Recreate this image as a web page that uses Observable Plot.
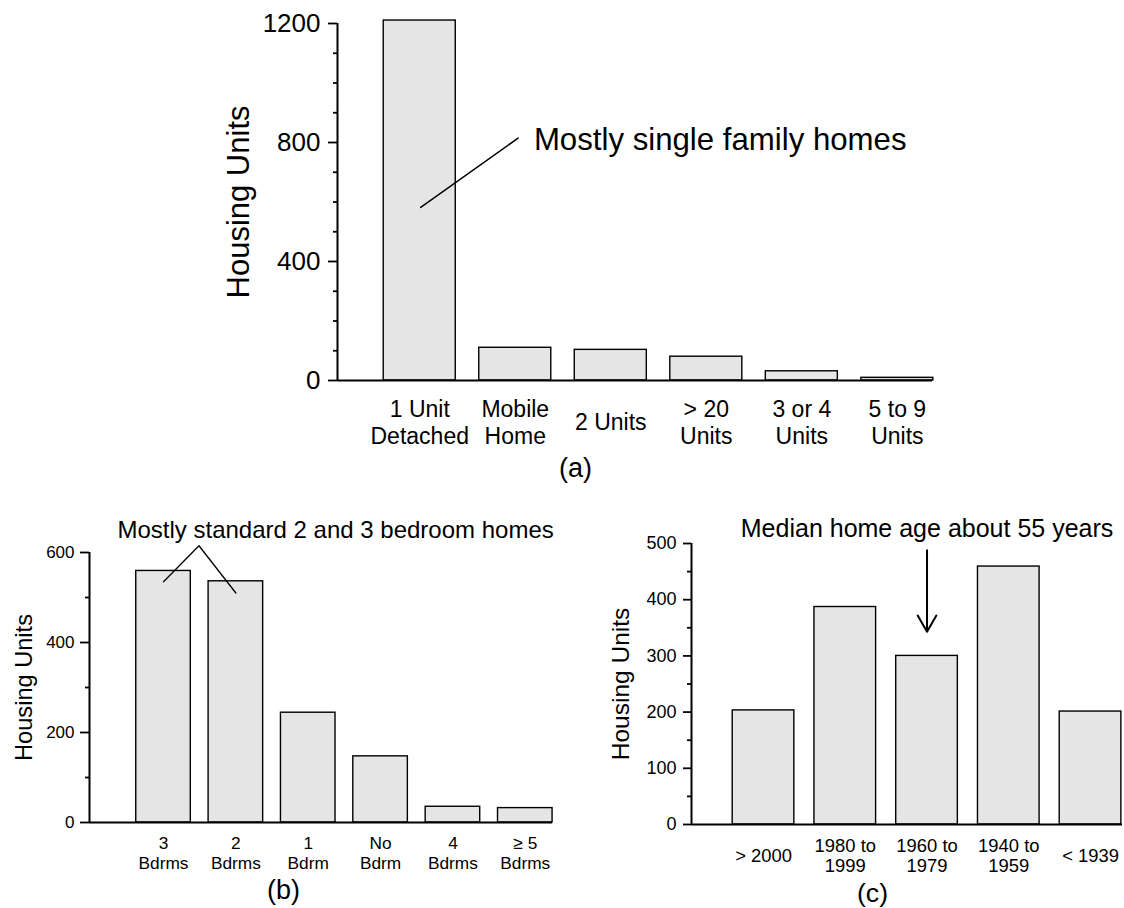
<!DOCTYPE html>
<html>
<head>
<meta charset="utf-8">
<script src="https://cdn.jsdelivr.net/npm/d3@7"></script>
<script src="https://cdn.jsdelivr.net/npm/@observablehq/plot@0.6"></script>
<style>
  html, body { margin: 0; padding: 0; background: #fff; }
  #wrap { position: relative; width: 1124px; height: 908px; overflow: hidden; background: #fff; }
  .panel { position: absolute; }
</style>
</head>
<body>
<div id="wrap">
  <div id="pa" class="panel" style="left:0px;top:0px"></div>
  <div id="pb" class="panel" style="left:0px;top:500px"></div>
  <div id="pc" class="panel" style="left:570px;top:500px"></div>
</div>
<script>
// ---------- data ----------
const unitCategories = ["1 Unit\nDetached", "Mobile\nHome", "2 Units", "> 20\nUnits", "3 or 4\nUnits", "5 to 9\nUnits"];
const unitCounts = [1210, 110, 103, 80, 31, 9];
const unitTicks = [0, 400, 800, 1200];
const unitMinorTicks = [100, 200, 300, 500, 600, 700, 900, 1000, 1100];

const bedroomCategories = ["3\nBdrms", "2\nBdrms", "1\nBdrm", "No\nBdrm", "4\nBdrms", "≥ 5\nBdrms"];
const bedroomCounts = [559, 536, 244, 147, 35, 32];
const bedroomTicks = [0, 200, 400, 600];
const bedroomMinorTicks = [100, 300, 500];

const ageCategories = ["> 2000", "1980 to\n1999", "1960 to\n1979", "1940 to\n1959", "< 1939"];
const ageCounts = [203, 387, 300, 459, 201];
const ageTicks = [0, 100, 200, 300, 400, 500];
const ageMinorTicks = [50, 150, 250, 350, 450];

const yTitle = "Housing Units";

// annotations (in data units: category position, value)
const noteA = "Mostly single family homes";
const noteAAnchor = [{pos: 2.195, value: 808}];
const noteALeader = [{pos: 2.03, value: 815}, {pos: 1.01, value: 582}];

const noteB = "Mostly standard 2 and 3 bedroom homes";
const noteBAnchor = [{pos: 0.364, value: 649}];
const noteBLeader = [{pos: 1, value: 535}, {pos: 1.49, value: 615}, {pos: 2, value: 510}];

const noteC = "Median home age about 55 years";
const noteCAnchor = [{pos: 3, value: 526}];
const noteCArrow = [{pos: 3, from: 488, to: 343}];

// ---------- drawing ----------
const FONT = "'Liberation Sans', Arial, Helvetica, sans-serif";
const HALF = 0.377;

function panel(cfg) {
  const rows = cfg.categories.map((c, i) => ({pos: i + 1, label: c, value: cfg.values[i]}));
  return Plot.plot({
    width: cfg.width,
    height: cfg.height,
    marginLeft: cfg.marginLeft,
    marginRight: cfg.marginRight,
    marginTop: cfg.marginTop,
    marginBottom: cfg.marginBottom,
    x: {type: "linear", domain: cfg.xDomain, axis: null},
    y: {domain: cfg.yDomain},
    style: {fontFamily: FONT, background: "transparent", overflow: "visible", color: "#000"},
    marks: [
      Plot.rectY(rows, {
        x1: d => d.pos - HALF, x2: d => d.pos + HALF, y1: 0, y2: "value",
        fill: "#e5e5e5", stroke: "#000", strokeWidth: 1.4
      }),
      Plot.ruleY([0], {stroke: "#000", strokeWidth: 2}),
      Plot.ruleX([cfg.xDomain[0]], {stroke: "#000", strokeWidth: 2}),
      Plot.axisY(cfg.ticks, {
        tickSize: cfg.tickSize, tickPadding: cfg.tickPadding, fontSize: cfg.yFont,
        tickFormat: d => String(d), strokeWidth: 1.8, label: null
      }),
      Plot.axisY(cfg.minor, {
        tickSize: cfg.minorSize, tickFormat: () => "", strokeWidth: 1.8, label: null
      }),
      Plot.text(rows, {
        x: "pos", text: "label", frameAnchor: "bottom", lineAnchor: "middle",
        dy: cfg.xLabelDy, fontSize: cfg.xFont, lineHeight: cfg.lineHeight
      }),
      Plot.text([yTitle], {
        frameAnchor: "left", textAnchor: "middle", rotate: -90,
        dx: cfg.yLabelDx, fontSize: cfg.yLabelFont
      }),
      Plot.text([cfg.tag], {
        frameAnchor: "bottom-left", textAnchor: "middle", lineAnchor: "middle",
        dx: cfg.tagDx, dy: cfg.tagDy, fontSize: cfg.tagFont
      }),
      ...cfg.extra
    ]
  });
}

document.getElementById("pa").append(panel({
  categories: unitCategories, values: unitCounts, ticks: unitTicks, minor: unitMinorTicks,
  width: 1124, height: 490, marginLeft: 337, marginRight: 192, marginTop: 23, marginBottom: 110,
  xDomain: [0.139, 6.368], yDomain: [0, 1200],
  tickSize: 9, tickPadding: 8, minorSize: 4, yFont: 26,
  xFont: 23, xLabelDy: 41, lineHeight: 1.2,
  yLabelDx: -98, yLabelFont: 31,
  tag: "(a)", tagDx: 238, tagDy: 88, tagFont: 27,
  extra: [
    Plot.line(noteALeader, {x: "pos", y: "value", stroke: "#000", strokeWidth: 1.5}),
    Plot.text(noteAAnchor, {x: "pos", y: "value", text: () => noteA, textAnchor: "start", lineAnchor: "middle", fontSize: 31.2})
  ]
}));

document.getElementById("pb").append(panel({
  categories: bedroomCategories, values: bedroomCounts, ticks: bedroomTicks, minor: bedroomMinorTicks,
  width: 570, height: 408, marginLeft: 89, marginRight: 18, marginTop: 52, marginBottom: 86,
  xDomain: [-0.023, 6.376], yDomain: [0, 600],
  tickSize: 9, tickPadding: 6, minorSize: 4, yFont: 17,
  xFont: 17.3, xLabelDy: 30, lineHeight: 1.16,
  yLabelDx: -65, yLabelFont: 23.6,
  tag: "(b)", tagDx: 194, tagDy: 68, tagFont: 27,
  extra: [
    Plot.line(noteBLeader, {x: "pos", y: "value", stroke: "#000", strokeWidth: 1.3}),
    Plot.text(noteBAnchor, {x: "pos", y: "value", text: () => noteB, textAnchor: "start", lineAnchor: "middle", fontSize: 24})
  ]
}));

document.getElementById("pc").append(panel({
  categories: ageCategories, values: ageCounts, ticks: ageTicks, minor: ageMinorTicks,
  width: 554, height: 408, marginLeft: 121, marginRight: 2, marginTop: 43, marginBottom: 84,
  xDomain: [0.119, 5.391], yDomain: [0, 500],
  tickSize: 8, tickPadding: 7, minorSize: 4, yFont: 18,
  xFont: 18.4, xLabelDy: 31, lineHeight: 1.1,
  yLabelDx: -70, yLabelFont: 24.5,
  tag: "(c)", tagDx: 181, tagDy: 69, tagFont: 26.6,
  extra: [
    Plot.arrow(noteCArrow, {x1: "pos", x2: "pos", y1: "from", y2: "to", stroke: "#000", strokeWidth: 2, headLength: 14}),
    Plot.text(noteCAnchor, {x: "pos", y: "value", text: () => noteC, textAnchor: "middle", lineAnchor: "middle", fontSize: 25})
  ]
}));
</script>
</body>
</html>
